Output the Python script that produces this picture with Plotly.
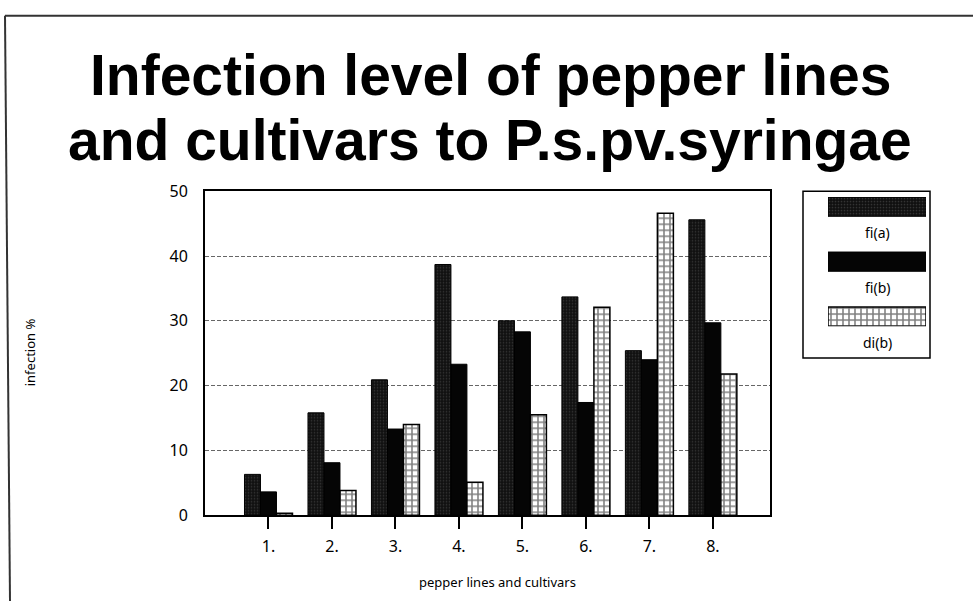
import plotly.graph_objects as go

# ---- data ----
categories = ["1.", "2.", "3.", "4.", "5.", "6.", "7.", "8."]
fi_a = [6.3, 15.8, 20.9, 38.7, 30.0, 33.7, 25.4, 45.6]
fi_b = [3.6, 8.1, 13.3, 23.3, 28.3, 17.4, 24.0, 29.7]
di_b = [0.3, 3.8, 14.0, 5.1, 15.5, 32.1, 46.6, 21.8]
series_names = ["fi(a)", "fi(b)", "di(b)"]
y_ticks = [0, 10, 20, 30, 40, 50]

W, H = 973, 612
def px(x):
    return x / W
def py(y):
    return 1 - y / H

positions = list(range(1, len(categories) + 1))

styles = [
    dict(color="#101010", line=dict(color="black", width=1),
         pattern=dict(shape=".", fgcolor="#5a5a5a", bgcolor="#101010", size=3, solidity=0.25)),
    dict(color="#050505", line=dict(color="black", width=1)),
    dict(color="white", line=dict(color="black", width=1.5),
         pattern=dict(shape="+", fgcolor="black", bgcolor="white", size=6, solidity=0.45)),
]

fig = go.Figure()
for name, vals, st in zip(series_names, [fi_a, fi_b, di_b], styles):
    fig.add_trace(go.Bar(x=positions, y=vals, name=name, marker=st, showlegend=False))

# legend swatches drawn as bars on an auxiliary axis
for i, (name, st) in enumerate(zip(series_names, styles)):
    fig.add_trace(go.Bar(x=[1], y=[i], orientation="h", width=0.35, marker=st,
                         xaxis="x2", yaxis="y2", showlegend=False, hoverinfo="skip"))

tick_font = dict(family="Noto Sans, DejaVu Sans, sans-serif", size=16, color="black")

fig.update_layout(
    width=W, height=H,
    margin=dict(l=0, r=0, t=0, b=0),
    paper_bgcolor="white", plot_bgcolor="white",
    barmode="group", bargap=0.244, bargroupgap=0,
    xaxis=dict(domain=[px(205), px(770)], range=[0, 8.9],
               tickvals=positions, ticktext=categories, tickfont=tick_font,
               ticks="outside", ticklen=12, tickwidth=1.5, tickcolor="black",
               ticklabelstandoff=4,
               showline=True, linecolor="black", linewidth=2, mirror=True,
               showgrid=False, zeroline=False),
    yaxis=dict(domain=[py(523), py(187)], range=[0, 50],
               tickvals=y_ticks, tickfont=tick_font, ticks="", ticklabelstandoff=12,
               showline=True, linecolor="black", linewidth=2, mirror=True,
               showgrid=True, gridcolor="#666666", griddash="4px,2px", gridwidth=1,
               zeroline=False),
    xaxis2=dict(domain=[px(828), px(926)], range=[0, 1], visible=False, anchor="y2"),
    yaxis2=dict(domain=[py(327), py(193)], range=[2.175, -0.175], visible=False, anchor="x2"),
)

shapes = [
    # legend box
    dict(type="rect", xref="paper", yref="paper", x0=px(803), x1=px(930), y0=py(360), y1=py(187),
         line=dict(color="black", width=1.5)),
    # outer page border (top and left)
    dict(type="line", xref="paper", yref="paper", x0=px(5), x1=1, y0=py(5), y1=py(5),
         line=dict(color="#333333", width=2)),
    dict(type="line", xref="paper", yref="paper", x0=px(5), x1=px(10), y0=py(5), y1=0,
         line=dict(color="#333333", width=2)),
]

title_font = dict(family="Liberation Sans, Arial, sans-serif", size=57, color="black", weight="bold")
label_font = dict(family="Noto Sans, DejaVu Sans, sans-serif", size=13, color="black")
annotations = [
    dict(text="Infection level of pepper lines", x=px(490), y=py(66), xref="paper", yref="paper",
         showarrow=False, font=title_font, xanchor="center", yanchor="middle"),
    dict(text="and cultivars to P.s.pv.syringae", x=px(490), y=py(134), xref="paper", yref="paper",
         showarrow=False, font=title_font, xanchor="center", yanchor="middle"),
    dict(text="infection %", x=px(30), y=py(354), xref="paper", yref="paper", textangle=-90,
         showarrow=False, font=label_font, xanchor="center", yanchor="middle"),
    dict(text="pepper lines and cultivars", x=px(497), y=py(592), xref="paper", yref="paper",
         showarrow=False, font=label_font, xanchor="center", yanchor="middle"),
]
for i, name in enumerate(series_names):
    annotations.append(dict(text=name, x=px(877), y=py(230 + 57 * i), xref="paper", yref="paper",
                            showarrow=False, font=dict(family="Noto Sans, DejaVu Sans, sans-serif", size=14, color="black"),
                            xanchor="center", yanchor="middle"))

fig.update_layout(shapes=shapes, annotations=annotations)
fig.write_html("out.html", config={"displayModeBar": False},
               post_script="document.body.style.margin='0px';document.body.style.overflow='hidden';")
